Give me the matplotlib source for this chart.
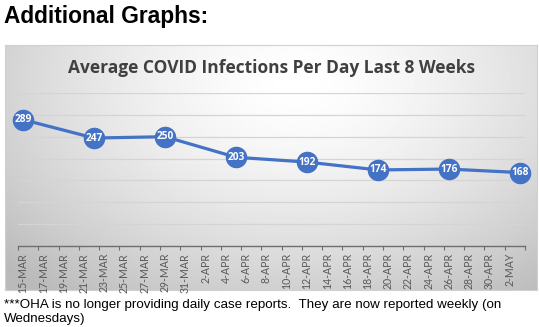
import numpy as np
import pandas as pd
import matplotlib
matplotlib.use('Agg')
import matplotlib.pyplot as plt

# weekly averages (infections per day)
week_dates = ['2020-03-15', '2020-03-22', '2020-03-29', '2020-04-05',
              '2020-04-12', '2020-04-19', '2020-04-26', '2020-05-03']
avg_cases = [289, 247, 250, 203, 192, 174, 176, 168]

start = pd.Timestamp('2020-03-15')
end = pd.Timestamp('2020-05-03')
tick_dates = pd.date_range(start, '2020-05-02', freq='2D')
tick_labels = [f"{d.day}-{d.strftime('%b').upper()}" for d in tick_dates]

W, H = 539, 327
fig = plt.figure(figsize=(W / 100, H / 100), dpi=100)
fig.patch.set_facecolor('white')


def box(x0, y0, x1, y1):
    # pixel box (top-left origin) -> figure fraction rect
    return [x0 / W, 1 - y1 / H, (x1 - x0) / W, (y1 - y0) / H]


# chart panel with a soft radial grey gradient
bg = fig.add_axes(box(5, 45, 537, 290))
yy, xx = np.mgrid[0:1:200j, 0:1:400j]
r = np.sqrt(((xx - 0.55) / 0.75) ** 2 + ((yy - 0.15) / 1.1) ** 2)
shade = 1.0 - 0.27 * np.clip(r, 0, 1) ** 1.5
bg.imshow(shade, cmap='gray', vmin=0, vmax=1, aspect='auto',
          extent=[0, 1, 1, 0], interpolation='bilinear')
bg.set_xticks([])
bg.set_yticks([])
for s in bg.spines.values():
    s.set_color('#d0d0d0')
    s.set_linewidth(0.8)

bg.text(0.5, 0.905, 'Average COVID Infections Per Day Last 8 Weeks',
        transform=bg.transAxes, ha='center', va='center',
        fontsize=12.5, fontweight='bold', color='#404040', family='Open Sans')

# plotting area
ax = fig.add_axes(box(18, 93, 525, 246))
ax.patch.set_alpha(0)
x = [(pd.Timestamp(d) - start).days for d in week_dates]
ax.set_xlim(-0.5, (end - start).days + 0.5)
ax.set_ylim(0, 350)
ax.set_yticks(np.arange(50, 351, 50))
ax.yaxis.grid(True, color='#d4d4d4', linewidth=0.9)
ax.tick_params(axis='y', length=0, labelleft=False)
for side in ['top', 'right', 'left']:
    ax.spines[side].set_visible(False)
ax.spines['bottom'].set_color('#6e6e6e')
ax.spines['bottom'].set_linewidth(1.0)

ax.set_xticks([(d - start).days for d in tick_dates])
ax.set_xticklabels(tick_labels, rotation=90, fontsize=7.6, color='#595959',
                   family='Lato')
ax.tick_params(axis='x', length=0, pad=5)
ax.set_xticks(np.arange(-0.5, (end - start).days + 1, 2), minor=True)
ax.tick_params(axis='x', which='minor', length=3, width=0.8, color='#6e6e6e')

ax.plot(x, avg_cases, color='#4472C4', linewidth=2.3, marker='o',
        markersize=14.5, markerfacecolor='#4472C4', markeredgecolor='#4472C4',
        zorder=3, clip_on=False)
for xi, v in zip(x, avg_cases):
    ax.text(xi, v, str(v), ha='center', va='center', fontsize=7.3,
            fontweight='bold', color='white', zorder=4, family='Open Sans')

fig.text(4 / W, 1 - 16 / H, 'Additional Graphs:', ha='left', va='center',
         fontsize=16.4, fontweight='bold', family='Liberation Sans', color='black')
fig.text(4 / W, 1 - 312 / H,
         '***OHA is no longer providing daily case reports.  They are now reported weekly (on\nWednesdays)',
         ha='left', va='center', fontsize=9.6, family='Liberation Sans',
         color='black', linespacing=1.25)

fig.savefig('out.png', dpi=100)
